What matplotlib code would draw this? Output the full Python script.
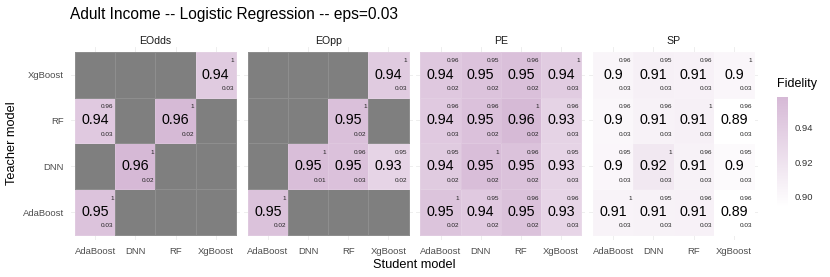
import numpy as np
import matplotlib
matplotlib.use("Agg")
import matplotlib.pyplot as plt
from matplotlib.colors import LinearSegmentedColormap, Normalize

plt.rcParams["font.family"] = ["Liberation Sans", "DejaVu Sans"]

NA = np.nan
students = ["AdaBoost", "DNN", "RF", "XgBoost"]
teachers = ["AdaBoost", "DNN", "RF", "XgBoost"]  # bottom to top
metrics = ["EOdds", "EOpp", "PE", "SP"]

# fidelity (mean), rows = teacher, cols = student
fid = {
    "EOdds": [[0.949, NA, NA, NA],
              [NA, 0.958, NA, NA],
              [0.943, NA, 0.957, NA],
              [NA, NA, NA, 0.942]],
    "EOpp": [[0.950, NA, NA, NA],
             [NA, 0.953, 0.951, 0.933],
             [NA, NA, 0.952, NA],
             [NA, NA, NA, 0.942]],
    "PE": [[0.948, 0.943, 0.950, 0.932],
           [0.942, 0.953, 0.950, 0.933],
           [0.943, 0.951, 0.957, 0.934],
           [0.944, 0.949, 0.952, 0.941]],
    "SP": [[0.905, 0.906, 0.907, 0.894],
           [0.902, 0.915, 0.906, 0.899],
           [0.901, 0.906, 0.908, 0.894],
           [0.903, 0.908, 0.907, 0.902]],
}
# small top-right numbers
fid_max = {
    "EOdds": [[1, NA, NA, NA], [NA, 1, NA, NA], [0.96, NA, 1, NA], [NA, NA, NA, 1]],
    "EOpp": [[1, NA, NA, NA], [NA, 1, 0.96, 0.95], [NA, NA, 1, NA], [NA, NA, NA, 1]],
    "PE": [[1, 0.95, 0.96, 0.96], [0.95, 1, 0.96, 0.95],
           [0.96, 0.96, 1, 0.96], [0.96, 0.95, 0.96, 1]],
    "SP": [[1, 0.95, 0.96, 0.96], [0.95, 1, 0.96, 0.95],
           [0.96, 0.96, 1, 0.96], [0.96, 0.95, 0.96, 1]],
}
# small bottom-right numbers
fid_sd = {
    "EOdds": [[0.03, NA, NA, NA], [NA, 0.02, NA, NA], [0.03, NA, 0.02, NA], [NA, NA, NA, 0.03]],
    "EOpp": [[0.02, NA, NA, NA], [NA, 0.01, 0.03, 0.02], [NA, NA, 0.02, NA], [NA, NA, NA, 0.03]],
    "PE": [[0.02, 0.02, 0.02, 0.03], [0.02, 0.02, 0.02, 0.03],
           [0.03, 0.02, 0.02, 0.03], [0.02, 0.02, 0.02, 0.03]],
    "SP": [[0.03, 0.03, 0.03, 0.03], [0.03, 0.03, 0.03, 0.03],
           [0.03, 0.03, 0.03, 0.03], [0.03, 0.03, 0.03, 0.03]],
}


def fmt(v):
    return "{:g}".format(round(v, 2))


cmap = LinearSegmentedColormap.from_list("fid", ["#FFFFFF", "#D6B9D6"])
cmap.set_bad("#7F7F7F")
allv = np.concatenate([np.array(fid[m], float).ravel() for m in metrics])
norm = Normalize(np.nanmin(allv), np.nanmax(allv))

W, H = 830, 277
fig = plt.figure(figsize=(W / 100, H / 100), dpi=100)

tile_w = 40.2
ax_w = 4.2 * tile_w
step = 172.7
ax_left0 = 71
ax_top, ax_bot = 47.1, 239.6

for k, m in enumerate(metrics):
    left = ax_left0 + k * step
    ax = fig.add_axes([left / W, (H - ax_bot) / H, ax_w / W, (ax_bot - ax_top) / H])
    z = np.ma.masked_invalid(np.array(fid[m], float))
    ax.set_axisbelow(True)
    ax.grid(True, color="#EBEBEB", linewidth=0.6)
    ax.pcolormesh(np.arange(5) - 0.5, np.arange(5) - 0.5, z, cmap=cmap, norm=norm,
                  edgecolors=(1, 1, 1, 0.12), linewidth=0.5)
    for i in range(4):
        for j in range(4):
            v = fid[m][i][j]
            if np.isnan(v):
                continue
            ax.text(j, i, fmt(v), ha="center", va="center", fontsize=10.3, color="black")
            ax.text(j + 0.46, i + 0.3, fmt(fid_max[m][i][j]), ha="right", va="center",
                    fontsize=4.6, color="#222222")
            ax.text(j + 0.46, i - 0.3, fmt(fid_sd[m][i][j]), ha="right", va="center",
                    fontsize=4.6, color="#222222")
    ax.set_xlim(-0.6, 3.6)
    ax.set_ylim(-0.6, 3.6)
    ax.set_xticks(range(4))
    ax.set_xticklabels(students)
    ax.set_yticks(range(4))
    if k == 0:
        ax.set_yticklabels(teachers)
    else:
        ax.set_yticklabels([])
    ax.tick_params(length=0, labelsize=6.8, labelcolor="#4D4D4D")
    ax.tick_params(axis="x", pad=5)
    ax.tick_params(axis="y", pad=5)
    for s in ax.spines.values():
        s.set_visible(False)
    ax.set_title(m, fontsize=7.6, color="#1A1A1A", pad=2.5)

fig.text(70 / W, 1 - 14 / H, "Adult Income -- Logistic Regression -- eps=0.03",
         fontsize=11.2, ha="left", va="center")
fig.text(414 / W, 1 - 265 / H, "Student model", fontsize=9.2, ha="center", va="center")
fig.text(12 / W, 1 - 143 / H, "Teacher model", fontsize=9.2, ha="center", va="center",
         rotation=90)

# colour bar
cax = fig.add_axes([777 / W, (H - 207) / H, 10.5 / W, 110 / H])
cb = fig.colorbar(plt.cm.ScalarMappable(norm=norm, cmap=cmap), cax=cax)
cb.outline.set_visible(False)
cb.set_ticks([0.90, 0.92, 0.94])
cb.set_ticklabels(["0.90", "0.92", "0.94"])
cax.tick_params(length=0, labelsize=6.8, labelcolor="#333333", pad=5)
fig.text(777 / W, 1 - 84 / H, "Fidelity", fontsize=9, ha="left", va="center")

fig.savefig("out.png", dpi=100)
